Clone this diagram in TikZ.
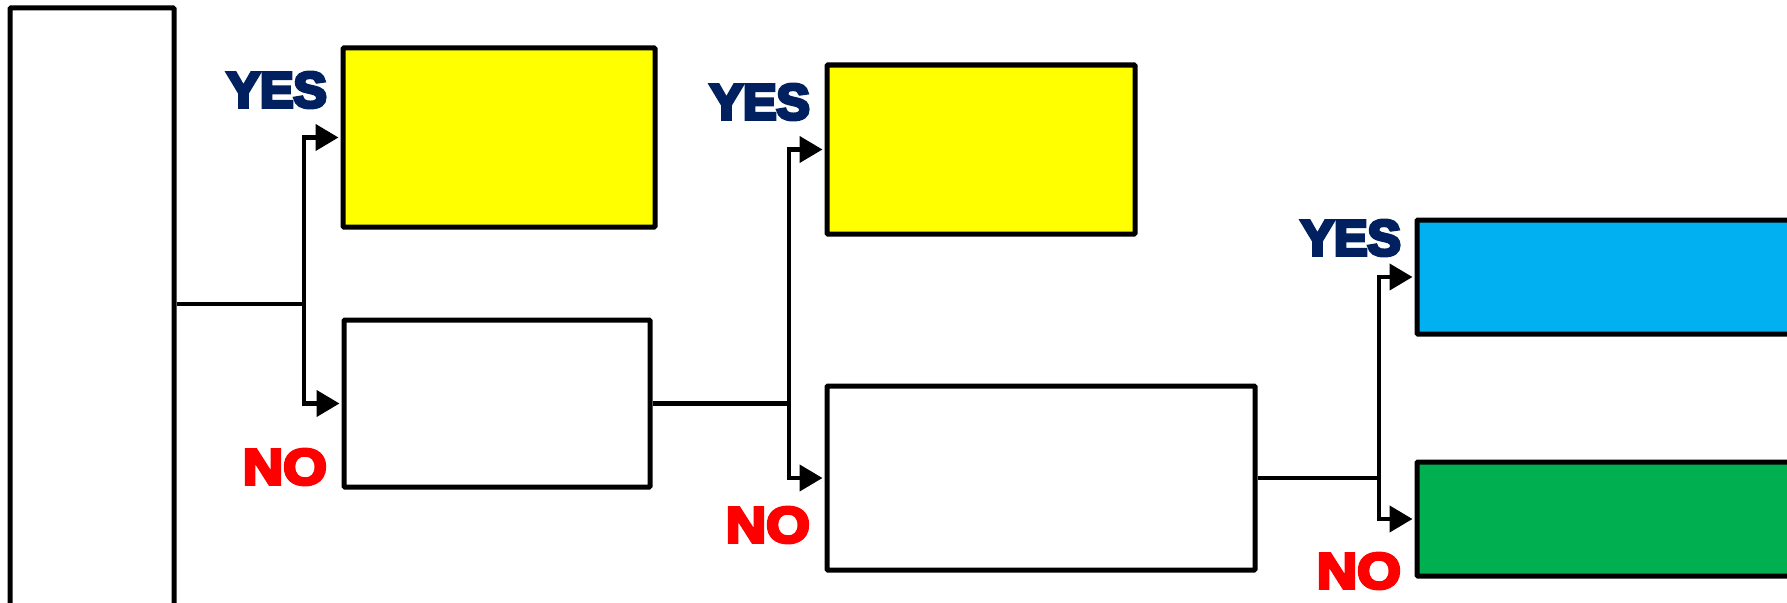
\documentclass[tikz,border=0pt]{standalone}
\usepackage{fontspec}
\newfontfamily\heavyfont{Liberation Sans Bold}[FakeBold=7]
\newfontfamily\wideheavyfont{Liberation Sans Bold}[FakeBold=7,FakeStretch=1.12]
\usetikzlibrary{arrows.meta}

\definecolor{yesblue}{HTML}{002060}
\definecolor{nored}{HTML}{FF0000}
\definecolor{boxyellow}{HTML}{FFFF00}
\definecolor{boxcyan}{HTML}{00B0F0}
\definecolor{boxgreen}{HTML}{00B050}

\tikzset{
	box/.style={draw,line width=5pt,rounded corners=1pt,inner sep=0pt},
	link/.style={line width=4.3pt},
	arr/.style={link,shorten >=2pt,-{Triangle[length=23pt,width=26pt]}},
	yeslabel/.style={anchor=east,inner sep=0pt,text=yesblue,font=\heavyfont\fontsize{50}{50}\selectfont},
	nolabel/.style={anchor=east,inner sep=0pt,text=nored,font=\wideheavyfont\fontsize{50}{50}\selectfont}
}

\begin{document}
\begin{tikzpicture}[x=1pt,y=-1pt]

	\useasboundingbox (0,0) rectangle (1787,602);

	\node[box,minimum width=164pt,minimum height=800pt] (s) at (92,408) {};

	\node[box,fill=boxyellow,minimum width=312pt,minimum height=179pt] (y1) at (499,137.5) {};
	\node[box,minimum width=306pt,minimum height=167pt] (n1) at (497,403.5) {};

	\node[box,fill=boxyellow,minimum width=308pt,minimum height=169pt] (y2) at (981,149.5) {};
	\node[box,minimum width=428pt,minimum height=184pt] (n2) at (1041,478) {};

	\node[box,fill=boxcyan,minimum width=600pt,minimum height=114pt] (y3) at (1717,277) {};
	\node[box,fill=boxgreen,minimum width=600pt,minimum height=114pt] (n3) at (1717,519) {};

	\coordinate (j1) at (304,304);
	\coordinate (j2) at (789,403.5);
	\coordinate (j3) at (1379,478);

	\draw[link] (s.east |- j1) -- (j1);
	\draw[arr] (j1) |- (y1.west);
	\draw[arr] (j1) |- (n1.west);

	\draw[link] (n1.east) -- (j2);
	\draw[arr] (j2) |- (y2.west);
	\draw[arr] (j2) |- (n2.west);

	\draw[link] (n2.east) -- (j3);
	\draw[arr] (j3) |- (y3.west);
	\draw[arr] (j3) |- (n3.west);

	\node[yeslabel] (t1) at (327,90) {YES};
	\node[nolabel] (f1) at (327,467) {NO};
	\node[yeslabel] (t2) at (810,102) {YES};
	\node[nolabel] (f2) at (810,525) {NO};
	\node[yeslabel] (t3) at (1401,238) {YES};
	\node[nolabel] (f3) at (1401,571) {NO};

\end{tikzpicture}
\end{document}
